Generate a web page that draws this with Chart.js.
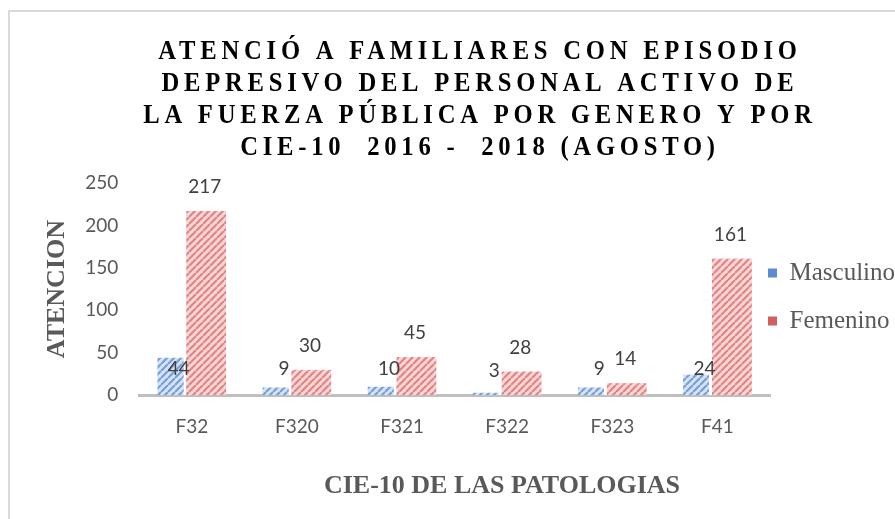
<!DOCTYPE html>
<html>
<head>
<meta charset="utf-8">
<script src="https://cdn.jsdelivr.net/npm/chart.js@4.4.1/dist/chart.umd.min.js"></script>
<style>
  html, body { margin: 0; padding: 0; background: #fff; }
  #wrap { width: 895px; height: 519px; }
</style>
</head>
<body>
<div id="wrap"><canvas id="chart" width="895" height="519"></canvas></div>
<script>
// datos
const categories = ['F32', 'F320', 'F321', 'F322', 'F323', 'F41'];
const masculino = [44, 9, 10, 3, 9, 24];
const femenino = [217, 30, 45, 28, 14, 161];
const yTicks = [0, 50, 100, 150, 200, 250];
const titleLines = [
  'ATENCIÓ A FAMILIARES CON EPISODIO',
  'DEPRESIVO DEL PERSONAL ACTIVO DE',
  'LA FUERZA PÚBLICA POR GENERO Y POR',
  'CIE-10  2016 -  2018 (AGOSTO)'
];
const xTitle = 'CIE-10 DE LAS PATOLOGIAS';

const GRAY = '#595959';

// relleno rayado tipo Excel
function stripes(bg, line) {
  const c = document.createElement('canvas');
  c.width = 7; c.height = 7;
  const g = c.getContext('2d');
  g.fillStyle = bg;
  g.fillRect(0, 0, 7, 7);
  g.strokeStyle = line;
  g.lineWidth = 2.2;
  g.beginPath();
  for (const o of [-7, 0, 7]) { g.moveTo(o, 7); g.lineTo(o + 7, 0); }
  g.stroke();
  return g.createPattern(c, 'repeat');
}

// marco, titulos, barras rojas encima y etiquetas de datos
const decor = {
  id: 'decor',
  afterLayout(chart) {
    const lg = chart.legend;
    lg.left -= 25;
    lg.top += 8; lg.bottom += 8;
  },
  beforeDraw(chart) {
    const ctx = chart.ctx;
    ctx.save();
    ctx.fillStyle = '#fff';
    ctx.fillRect(0, 0, chart.width, chart.height);
    ctx.strokeStyle = '#d9d9d9';
    ctx.lineWidth = 2;
    ctx.beginPath();
    ctx.moveTo(9, chart.height);
    ctx.lineTo(9, 11);
    ctx.lineTo(chart.width, 11);
    ctx.stroke();
    ctx.restore();
  },
  afterDatasetsDraw(chart) {
    const ctx = chart.ctx;
    chart.getDatasetMeta(1).controller.draw();
    ctx.save();
    ctx.font = '19px Lato';
    ctx.fillStyle = '#404040';
    ctx.textAlign = 'center';
    ctx.textBaseline = 'middle';
    chart.data.datasets.forEach((ds, i) => {
      chart.getDatasetMeta(i).data.forEach((bar, j) => {
        let y = bar.y - (i === 1 ? 24 : 22);
        if (i === 0) y = Math.max(y, chart.chartArea.bottom - 26);
        ctx.fillText(ds.data[j], bar.x, y);
      });
    });
    ctx.restore();
  },
  afterDraw(chart) {
    const ctx = chart.ctx;
    ctx.save();
    ctx.textAlign = 'center';
    ctx.textBaseline = 'middle';
    ctx.font = 'bold 26px "Liberation Serif"';
    ctx.fillStyle = GRAY;
    ctx.fillText(xTitle, 502, 486);
    // titulo: letra estrecha y espaciada
    ctx.fillStyle = '#000';
    ctx.font = 'bold 28px "Liberation Serif"';
    ctx.letterSpacing = '5.4px';
    ctx.scale(0.88, 1);
    titleLines.forEach((t, k) => ctx.fillText(t, 480 / 0.88, 52 + k * 32));
    ctx.restore();
  }
};

const ctx = document.getElementById('chart').getContext('2d');
new Chart(ctx, {
  type: 'bar',
  data: {
    labels: categories,
    datasets: [{
      label: 'Masculino',
      data: masculino,
      backgroundColor: stripes('#d6e3f5', '#779fd8'),
      legendColor: '#5b8bd0',
      categoryPercentage: 0.493,
      barPercentage: 1.65
    }, {
      label: 'Femenino',
      data: femenino,
      backgroundColor: stripes('#f7d6d6', '#e28484'),
      legendColor: '#d0605e',
      borderColor: '#fff',
      borderWidth: { left: 3, top: 0, right: 0, bottom: 0 },
      categoryPercentage: 0.493,
      barPercentage: 1.65
    }]
  },
  options: {
    responsive: false,
    animation: false,
    layout: { padding: { top: 183, left: 20, right: 0, bottom: 61 } },
    scales: {
      x: {
        grid: { display: false, drawTicks: false },
        border: { color: '#bfbfbf', width: 3 },
        ticks: { color: GRAY, font: { family: 'Lato', size: 19 }, padding: 20 }
      },
      y: {
        min: yTicks[0],
        max: yTicks[yTicks.length - 1],
        grid: { display: false, drawTicks: false },
        border: { display: false },
        ticks: { stepSize: yTicks[1] - yTicks[0], color: GRAY, font: { family: 'Lato', size: 19 }, padding: 21 },
        title: {
          display: true,
          text: 'ATENCION',
          color: GRAY,
          font: { family: 'Liberation Serif', size: 26, weight: 'bold' },
          padding: { top: 22, bottom: -9 }
        }
      }
    },
    plugins: {
      legend: {
        position: 'right',
        fullSize: false,
        maxWidth: 125,
        labels: {
          color: GRAY,
          font: { family: 'Liberation Serif', size: 25 },
          boxWidth: 9,
          boxHeight: 9,
          padding: 23,
          generateLabels(chart) {
            return chart.data.datasets.map((ds, i) => ({
              text: ds.label,
              fillStyle: ds.legendColor,
              strokeStyle: ds.legendColor,
              lineWidth: 0,
              fontColor: GRAY,
              datasetIndex: i
            }));
          }
        }
      },
      tooltip: { enabled: false }
    }
  },
  plugins: [decor]
});
</script>
</body>
</html>
